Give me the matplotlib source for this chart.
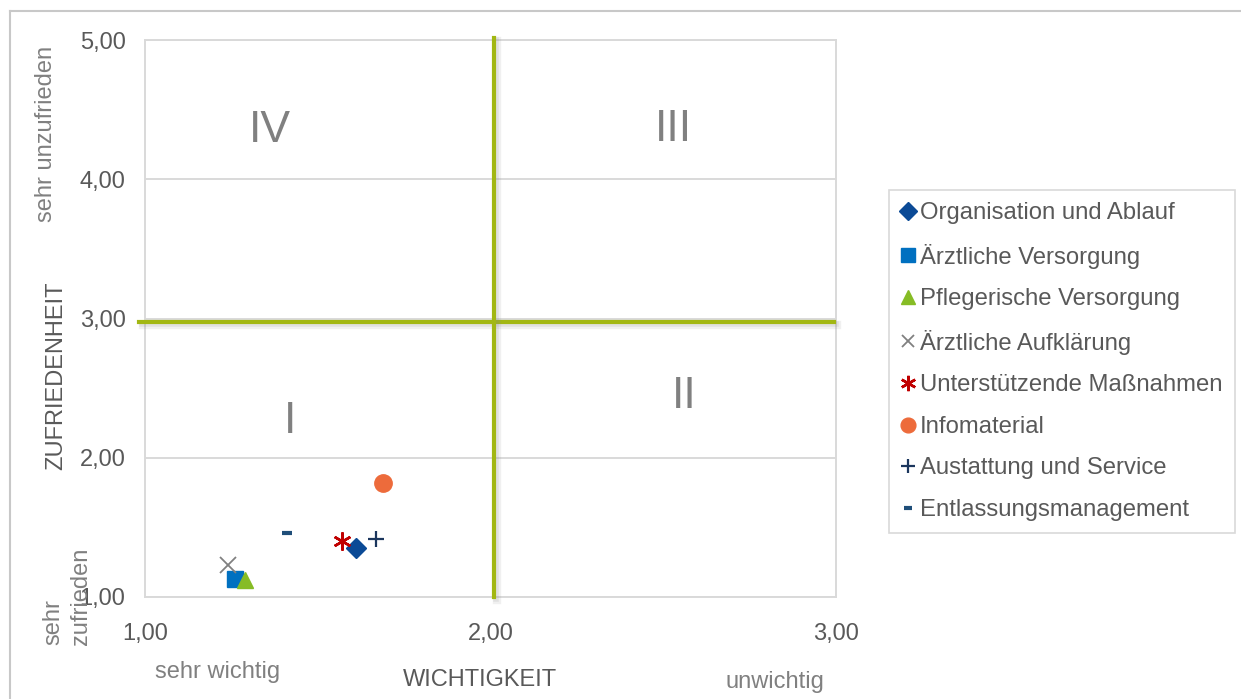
import matplotlib
matplotlib.use("Agg")
import matplotlib.pyplot as plt
import matplotlib.patheffects as pe
from matplotlib.lines import Line2D

plt.rcParams['font.family'] = ['Liberation Sans', 'DejaVu Sans']

# data
categories = ['Organisation und Ablauf', 'Ärztliche Versorgung', 'Pflegerische Versorgung',
              'Ärztliche Aufklärung', 'Unterstützende Maßnahmen', 'Infomaterial',
              'Austattung und Service', 'Entlassungsmanagement']
wichtigkeit = [1.61, 1.26, 1.29, 1.24, 1.57, 1.69, 1.67, 1.41]
zufriedenheit = [1.35, 1.13, 1.12, 1.23, 1.40, 1.82, 1.42, 1.46]

x_ticks = [1.0, 2.0, 3.0]
y_ticks = [1.0, 2.0, 3.0, 4.0, 5.0]
quadrants = ['I', 'II', 'III', 'IV']
split_x = 2.01
split_y = 2.975

markers = ['D', 's', '^', 'x', (6, 2, 0), 'o', '+', '_']
sizes = [10.5, 12, 12, 11, 13, 12.5, 12, 7]
edge_w = [1, 1, 1, 1.3, 1.8, 1, 1.6, 3]
colors = ['#0B4A96', '#0070C0', '#86BC25', '#808080', '#C00000', '#ED6B3B', '#1B365D', '#1F4E79']

W, H = 1241, 699
fig = plt.figure(figsize=(W / 100, H / 100), dpi=100)
ax = fig.add_axes([145 / W, 1 - 597 / H, 691 / W, 557 / H])

grid_c = '#D9D9D9'
for i in range(len(categories)):
    ax.plot(wichtigkeit[i], zufriedenheit[i], linestyle='none', marker=markers[i],
            markersize=sizes[i], color=colors[i], markeredgewidth=edge_w[i], zorder=5,
            clip_on=False, label=categories[i])

ax.set_xlim(1, 3)
ax.set_ylim(1, 5)
ax.set_xticks(x_ticks)
ax.set_yticks(y_ticks)
ax.set_xticklabels([f'{v:.2f}'.replace('.', ',') for v in x_ticks])
ax.set_yticklabels([f'{v:.2f}'.replace('.', ',') for v in y_ticks])
ax.tick_params(length=0, labelsize=17, labelcolor='#595959')
ax.tick_params(axis='x', pad=19)
ax.tick_params(axis='y', pad=14)
ax.yaxis.grid(True, color=grid_c, linewidth=1.4)
ax.set_axisbelow(True)
for s in ax.spines.values():
    s.set_color(grid_c)
    s.set_linewidth(1.4)

# quadrant lines with a soft shadow
green = '#A2B713'
shadow = [pe.SimpleLineShadow(offset=(2.5, -2.5), shadow_color='#8a8a8a', alpha=0.12, linewidth=6),
          pe.SimpleLineShadow(offset=(1.5, -1.5), shadow_color='#8a8a8a', alpha=0.15, linewidth=4),
          pe.Normal()]
ax.axhline(split_y, xmin=-0.008, xmax=0.997, color=green, linewidth=3, clip_on=False,
           path_effects=shadow, zorder=4)
ax.axvline(split_x, ymin=0, ymax=1.004, color=green, linewidth=3, clip_on=False,
           path_effects=shadow, zorder=4)

qpos = {'I': (1.42, 2.26), 'II': (2.56, 2.44), 'III': (2.53, 4.36), 'IV': (1.36, 4.35)}
for q in quadrants:
    ax.text(qpos[q][0], qpos[q][1], q, fontsize=32, color='#808080', ha='center', va='center')

# axis captions
fig.text(56 / W, 1 - 376 / H, 'ZUFRIEDENHEIT', rotation=90, fontsize=17, color='#595959',
         ha='center', va='center')
fig.text(480 / W, 1 - 680 / H, 'WICHTIGKEIT', fontsize=17, color='#595959', ha='center', va='center')
fig.text(46 / W, 1 - 134 / H, 'sehr unzufrieden', rotation=90, fontsize=17, color='#808080',
         ha='center', va='center')
fig.text(53 / W, 1 - 645 / H, 'sehr', rotation=90, fontsize=17, color='#808080',
         ha='center', va='bottom')
fig.text(81 / W, 1 - 645 / H, 'zufrieden', rotation=90, fontsize=17, color='#808080',
         ha='center', va='bottom')
fig.text(218 / W, 1 - 672 / H, 'sehr wichtig', fontsize=17, color='#808080', ha='center', va='center')
fig.text(775 / W, 1 - 682 / H, 'unwichtig', fontsize=17, color='#808080', ha='center', va='center')

# outer chart border
fig.add_artist(Line2D([9.5 / W, 9.5 / W], [0, 1 - 11 / H], transform=fig.transFigure,
                      color='#C8C8C8', linewidth=1.5))
fig.add_artist(Line2D([9.5 / W, 1], [1 - 11 / H, 1 - 11 / H], transform=fig.transFigure,
                      color='#C8C8C8', linewidth=1.5))

leg = fig.legend(loc='upper left', bbox_to_anchor=(889 / W, 1 - 190 / H), fontsize=17.2,
                 frameon=True, fancybox=False, edgecolor=grid_c, framealpha=1,
                 labelspacing=0.82, handlelength=0.6, handletextpad=0.2, borderpad=0.5,
                 borderaxespad=0, markerscale=0.85, labelcolor='#595959')
leg.get_frame().set_linewidth(1.2)

fig.savefig('out.png', dpi=100)
